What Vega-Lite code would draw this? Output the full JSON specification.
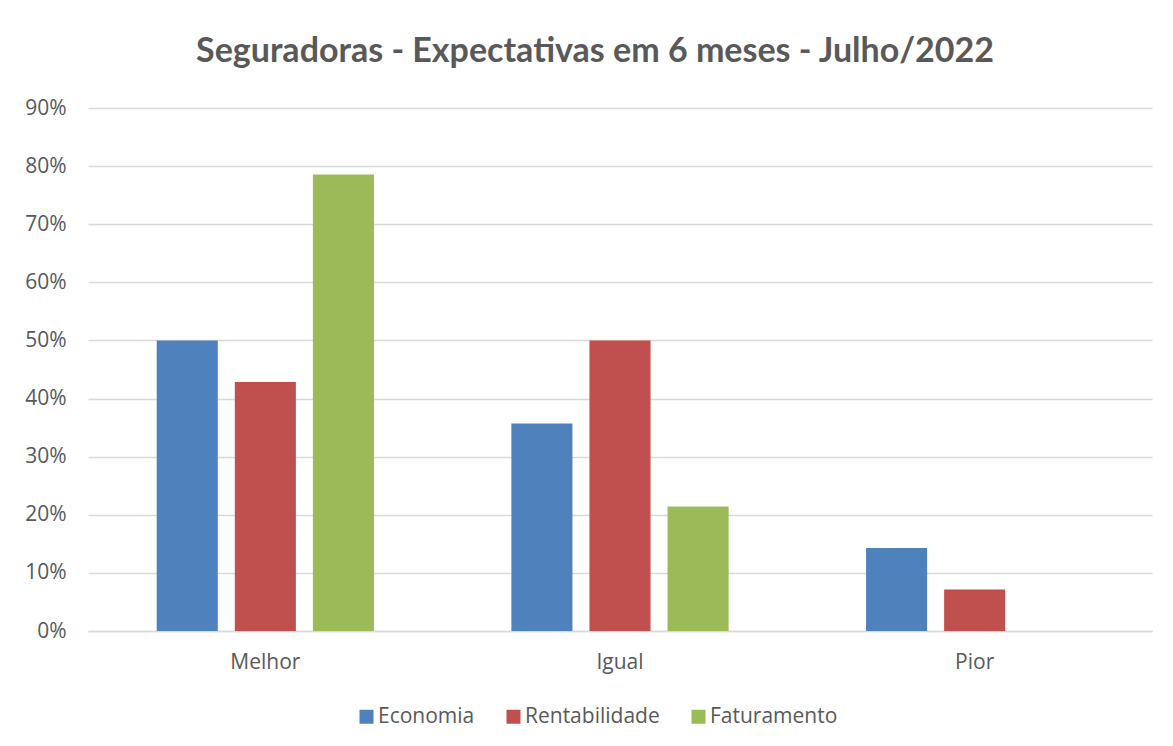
{
  "$schema": "https://vega.github.io/schema/vega-lite/v6.json",
  "width": 1064,
  "height": 523,
  "autosize": {"type": "none"},
  "padding": {"left": 88, "top": 108, "right": 21, "bottom": 115},
  "background": "white",
  "title": {
    "text": "Seguradoras - Expectativas em 6 meses - Julho/2022",
    "font": "Lato",
    "fontSize": 34,
    "fontWeight": "bold",
    "color": "#595959",
    "anchor": "middle",
    "dx": -25,
    "offset": 28
  },
  "data": {
    "values": [
      {"cat": "Melhor", "serie": "Economia", "v": 0.5},
      {"cat": "Melhor", "serie": "Rentabilidade", "v": 0.4286},
      {"cat": "Melhor", "serie": "Faturamento", "v": 0.7857},
      {"cat": "Igual", "serie": "Economia", "v": 0.3571},
      {"cat": "Igual", "serie": "Rentabilidade", "v": 0.5},
      {"cat": "Igual", "serie": "Faturamento", "v": 0.2143},
      {"cat": "Pior", "serie": "Economia", "v": 0.1429},
      {"cat": "Pior", "serie": "Rentabilidade", "v": 0.0714},
      {"cat": "Pior", "serie": "Faturamento", "v": 0}
    ]
  },
  "mark": {"type": "bar"},
  "encoding": {
    "x": {
      "field": "cat",
      "type": "nominal",
      "sort": ["Melhor", "Igual", "Pior"],
      "scale": {"paddingInner": 0, "paddingOuter": 0},
      "axis": {
        "title": null,
        "labelAngle": 0,
        "labelFont": "Open Sans",
        "labelFontSize": 21,
        "labelColor": "#595959",
        "labelPadding": 20,
        "ticks": false,
        "domainColor": "#d9d9d9",
        "domainWidth": 1.3
      }
    },
    "xOffset": {
      "field": "serie",
      "type": "nominal",
      "sort": ["Economia", "Rentabilidade", "Faturamento"],
      "scale": {"paddingInner": 0.218, "paddingOuter": 0.88}
    },
    "y": {
      "field": "v",
      "type": "quantitative",
      "scale": {"domain": [0, 0.9], "nice": false},
      "axis": {
        "title": null,
        "format": ".0%",
        "values": [0, 0.1, 0.2, 0.3, 0.4, 0.5, 0.6, 0.7, 0.8, 0.9],
        "labelFont": "Open Sans",
        "labelFontSize": 21,
        "labelColor": "#595959",
        "labelPadding": 22,
        "ticks": false,
        "domain": false,
        "gridColor": "#d9d9d9",
        "gridWidth": 1.3
      }
    },
    "color": {
      "field": "serie",
      "type": "nominal",
      "sort": ["Economia", "Rentabilidade", "Faturamento"],
      "scale": {
        "domain": ["Economia", "Rentabilidade", "Faturamento"],
        "range": ["#4F81BD", "#C0504D", "#9BBB59"]
      },
      "legend": {
        "title": null,
        "orient": "none",
        "direction": "horizontal",
        "legendX": 268,
        "legendY": 598,
        "symbolType": "square",
        "symbolSize": 196,
        "symbolStrokeWidth": 0,
        "labelFont": "Open Sans",
        "labelFontSize": 21,
        "labelColor": "#595959",
        "labelOffset": 1,
        "columnPadding": 28
      }
    }
  },
  "config": {
    "view": {"stroke": null}
  }
}
